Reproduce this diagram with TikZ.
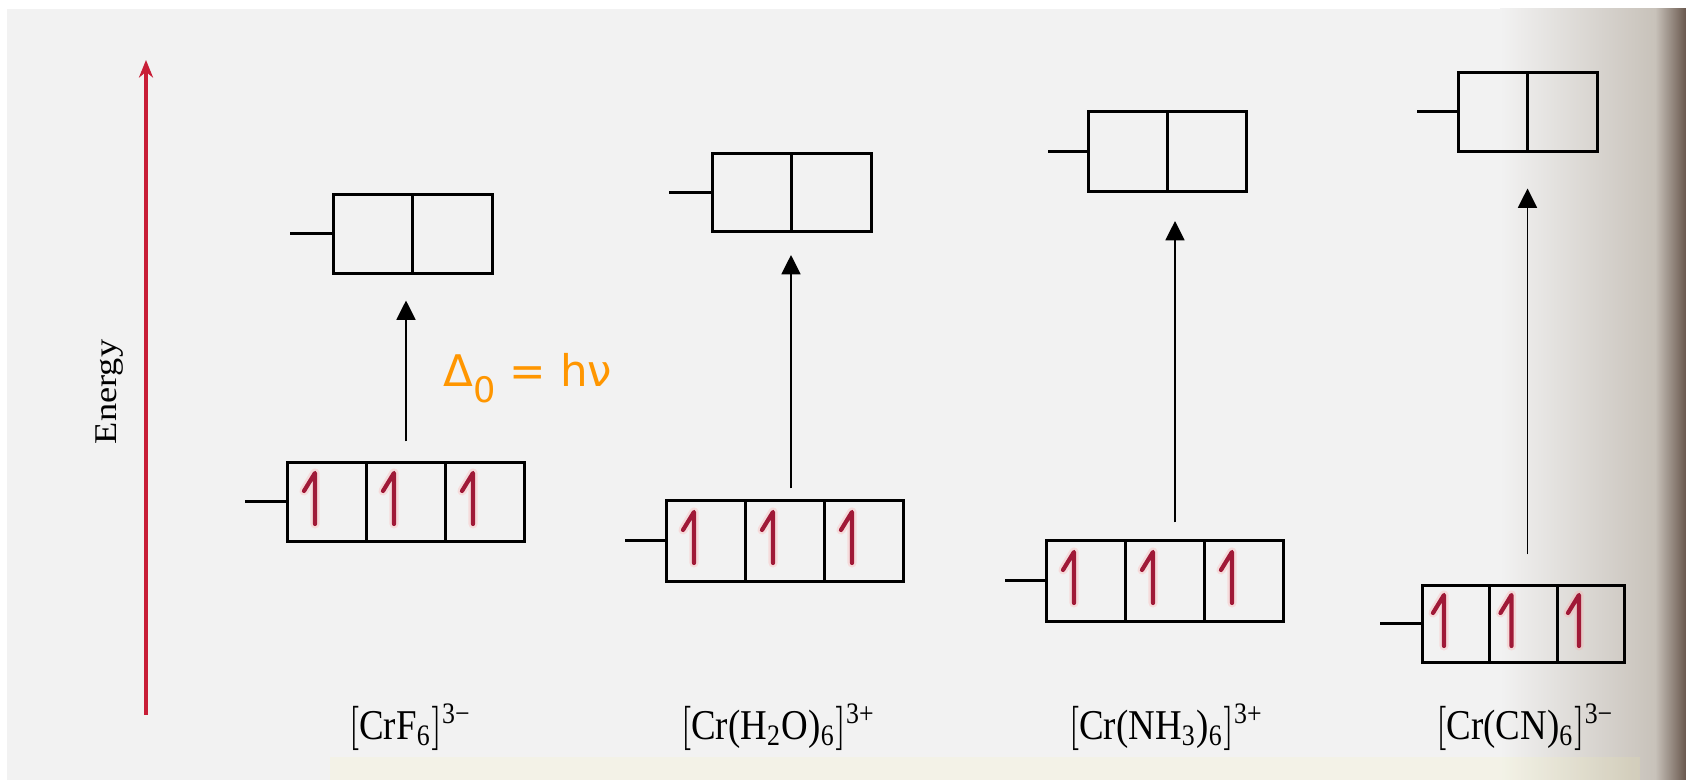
\documentclass[tikz,border=0pt]{standalone}
\usepackage{fontspec}
\setmainfont{Liberation Serif}
\newfontfamily\deltafont{DejaVu Sans}
\usepackage{xcolor}
\usetikzlibrary{positioning, arrows.meta}

\definecolor{pagegray}{RGB}{242,242,242}
\definecolor{edgegray}{RGB}{200,194,186}
\definecolor{edgebrown}{RGB}{105,88,78}
\definecolor{axisred}{RGB}{200,30,55}
\definecolor{spinred}{RGB}{160,25,55}
\definecolor{deltaorange}{RGB}{255,150,0}

\begin{document}
\begin{tikzpicture}[
  x=0.1mm, y=-0.1mm,
  orb/.style={
    rectangle, draw=black, line width=0.85pt, inner sep=0pt, outer sep=0pt,
    minimum width=7.9mm, minimum height=7.9mm
  },
  stub/.style={draw=black, line width=0.85pt},
  excite/.style={-{Triangle[length=5.5pt, width=5.4pt]}, line width=0.45pt},
  energyaxis/.style={-{Stealth[length=5pt, width=4pt]}, axisred, line width=0.9pt},
  cplx/.style={font=\fontsize{10.5}{12}\selectfont, inner sep=0pt},
  electron/.pic={
    \draw[red!35, line width=2.6pt, opacity=0.3, line cap=round]
      (-12,-29) -- (-12,22) (-12,-29) -- (-23,-11);
    \draw[spinred, line width=1.2pt, line cap=round, line join=round]
      (-23,-11) -- (-12,-29) -- (-12,22);
  },
]
\useasboundingbox (0,0) rectangle (1686,780);

%% -- page ---------------------------------------------------------------------
\fill[white] (0,0) rectangle (1686,780);
\fill[pagegray] (7,9) rectangle (1686,780);
\shade[left color=pagegray, right color=edgegray] (1500,9) rectangle (1655,780);
\shade[left color=edgegray, right color=edgebrown] (1655,9) rectangle (1686,780);
\fill[yellow!40, opacity=0.12] (330,757) rectangle (1640,780);

%% -- energy axis --------------------------------------------------------------
\coordinate (ebot) at (146,715);
\coordinate (etop) at (146,60);
\draw[energyaxis] (ebot) -- (etop);
\node[rotate=90, font=\fontsize{9}{11}\selectfont] (energy) at (110,392)
  {\scalebox{1.15}[1]{Energy}};

%% -- [CrF6]3- -----------------------------------------------------------------
\node[orb] (f1) at (327,502) {};
\node[orb, right=0pt of f1] (f2) {};
\node[orb, right=0pt of f2] (f3) {};
\node[orb, minimum width=7.95mm] (fe1) at (373,234) {};
\node[orb, minimum width=7.95mm, right=0pt of fe1] (fe2) {};
\draw[stub] (f1.west) -- ++(-43,0);
\draw[stub] (fe1.west) -- ++(-43,0);
\pic at (f1) {electron}; \pic at (f2) {electron}; \pic at (f3) {electron};
\draw[excite, shorten <=2.1mm, shorten >=2.7mm] (f2.north) -- (f2.north |- fe1.south);
\node[anchor=base west, inner sep=0pt, text=deltaorange,
  font=\deltafont\fontsize{12.4}{14}\selectfont] (delta) at (443,387)
  {Δ\raisebox{-4.5pt}{\fontsize{10}{12}\selectfont 0} = hν};
\node[cplx] (lf) at (410,727)
  {\scalebox{1}[1.15]{$\bigl[$CrF\textsubscript{6}$\bigr]$\textsuperscript{3−}}};

%% -- [Cr(H2O)6]3+ -------------------------------------------------------------
\node[orb, minimum height=8.1mm] (h1) at (706,541) {};
\node[orb, minimum height=8.1mm, right=0pt of h1] (h2) {};
\node[orb, minimum height=8.1mm, right=0pt of h2] (h3) {};
\node[orb, minimum width=7.95mm, minimum height=7.8mm] (he1) at (752,193) {};
\node[orb, minimum width=7.95mm, minimum height=7.8mm, right=0pt of he1] (he2) {};
\draw[stub] (h1.west) -- ++(-42,0);
\draw[stub] (he1.west) -- ++(-43,0);
\pic at (h1) {electron}; \pic at (h2) {electron}; \pic at (h3) {electron};
\draw[excite, shorten <=1.2mm, shorten >=2.3mm]
  ([xshift=0.6mm]h2.north) -- ([xshift=0.6mm]h2.north |- he1.south);
\node[cplx] (lh) at (778,727)
  {\scalebox{1}[1.15]{$\bigl[$Cr(H\textsubscript{2}O)\textsubscript{6}$\bigr]$\textsuperscript{3+}}};

%% -- [Cr(NH3)6]3+ -------------------------------------------------------------
\node[orb, minimum height=8.1mm] (n1) at (1086,581) {};
\node[orb, minimum height=8.1mm, right=0pt of n1] (n2) {};
\node[orb, minimum height=8.1mm, right=0pt of n2] (n3) {};
\node[orb, minimum height=8mm] (ne1) at (1128,152) {};
\node[orb, minimum height=8mm, right=0pt of ne1] (ne2) {};
\draw[stub] (n1.west) -- ++(-42,0);
\draw[stub] (ne1.west) -- ++(-41,0);
\pic at (n1) {electron}; \pic at (n2) {electron}; \pic at (n3) {electron};
\draw[excite, shorten <=1.8mm, shorten >=2.9mm]
  ([xshift=1mm]n2.north) -- ([xshift=1mm]n2.north |- ne1.south);
\node[cplx] (ln) at (1166,727)
  {\scalebox{1}[1.15]{$\bigl[$Cr(NH\textsubscript{3})\textsubscript{6}$\bigr]$\textsuperscript{3+}}};

%% -- [Cr(CN)6]3- --------------------------------------------------------------
\node[orb, minimum width=6.75mm, minimum height=7.7mm] (c1) at (1456,624) {};
\node[orb, minimum width=6.75mm, minimum height=7.7mm, right=0pt of c1] (c2) {};
\node[orb, minimum width=6.75mm, minimum height=7.7mm, right=0pt of c2] (c3) {};
\node[orb, minimum width=6.95mm] (ce1) at (1493,112) {};
\node[orb, minimum width=6.95mm, right=0pt of ce1] (ce2) {};
\draw[stub] (c1.west) -- ++(-42,0);
\draw[stub] (ce1.west) -- ++(-41,0);
\pic at (c1) {electron}; \pic at (c2) {electron}; \pic at (c3) {electron};
\draw[excite, shorten <=3.1mm, shorten >=3.7mm]
  ([xshift=0.4mm]c2.north) -- ([xshift=0.4mm]c2.north |- ce1.south);
\node[cplx] (lc) at (1525,727)
  {\scalebox{1}[1.15]{$\bigl[$Cr(CN)\textsubscript{6}$\bigr]$\textsuperscript{3−}}};

\end{tikzpicture}
\end{document}
